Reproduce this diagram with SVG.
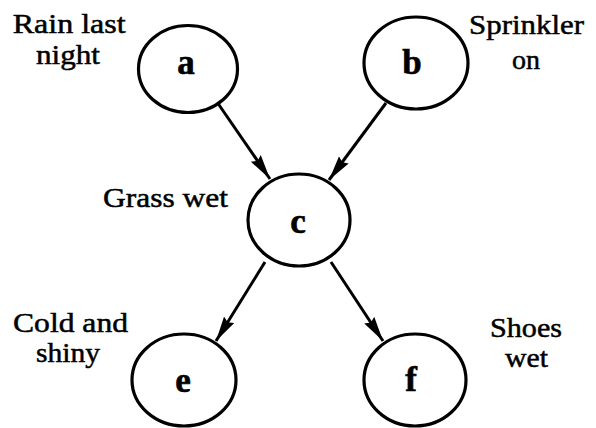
<svg xmlns="http://www.w3.org/2000/svg" width="596" height="428" viewBox="0 0 596 428">
  <style>
    .node ellipse { fill: #fff; stroke: #000; stroke-width: 3.2; }
    .node text { font-family: "Liberation Serif", "Times New Roman", serif; font-weight: bold; font-size: 35px; text-anchor: middle; fill: #000; stroke: #000; stroke-width: 0.6; }
    .lbl { font-family: "Liberation Serif", "Times New Roman", serif; font-size: 28px; fill: #000; stroke: #000; stroke-width: 0.5; }
    .edge { stroke: #000; stroke-width: 3; fill: none; marker-end: url(#arr); }
  </style>
  <defs>
    <marker id="arr" markerUnits="userSpaceOnUse" markerWidth="28" markerHeight="14" refX="25" refY="6" orient="auto">
      <path d="M0,0 L25,6 L0,12 L3,6 z" fill="#000"/>
    </marker>
  </defs>
  <rect width="596" height="428" fill="#fff"/>
  <g id="connectors">
    <line class="edge" x1="217" y1="102" x2="270" y2="179"/>
    <line class="edge" x1="386" y1="103" x2="329" y2="180"/>
    <line class="edge" x1="265" y1="262" x2="216" y2="341"/>
    <line class="edge" x1="331" y1="262" x2="383" y2="341"/>
  </g>
  <g id="node-a" class="node">
    <ellipse cx="188" cy="69" rx="49.5" ry="43.5"/>
    <text x="186" y="74">a</text>
  </g>
  <g id="node-b" class="node">
    <ellipse cx="416" cy="63" rx="52" ry="46"/>
    <text x="412" y="74">b</text>
  </g>
  <g id="node-c" class="node">
    <ellipse cx="299" cy="220" rx="51" ry="46"/>
    <text x="298" y="233">c</text>
  </g>
  <g id="node-e" class="node">
    <ellipse cx="184" cy="380" rx="52" ry="46"/>
    <text x="183" y="392">e</text>
  </g>
  <g id="node-f" class="node">
    <ellipse cx="415" cy="380" rx="51" ry="46"/>
    <text x="411" y="391">f</text>
  </g>
  <g id="labels">
    <text class="lbl" x="12.7" y="33" textLength="113" lengthAdjust="spacingAndGlyphs">Rain last</text>
    <text class="lbl" x="36" y="64" textLength="64" lengthAdjust="spacingAndGlyphs">night</text>
    <text class="lbl" x="469" y="34" textLength="115" lengthAdjust="spacingAndGlyphs">Sprinkler</text>
    <text class="lbl" x="512" y="69" textLength="28" lengthAdjust="spacingAndGlyphs">on</text>
    <text class="lbl" x="103" y="207" textLength="125" lengthAdjust="spacingAndGlyphs">Grass wet</text>
    <text class="lbl" x="13" y="332" textLength="115" lengthAdjust="spacingAndGlyphs">Cold and</text>
    <text class="lbl" x="36" y="362" textLength="64" lengthAdjust="spacingAndGlyphs">shiny</text>
    <text class="lbl" x="490" y="337" textLength="72" lengthAdjust="spacingAndGlyphs">Shoes</text>
    <text class="lbl" x="505" y="367" textLength="43" lengthAdjust="spacingAndGlyphs">wet</text>
  </g>
</svg>
